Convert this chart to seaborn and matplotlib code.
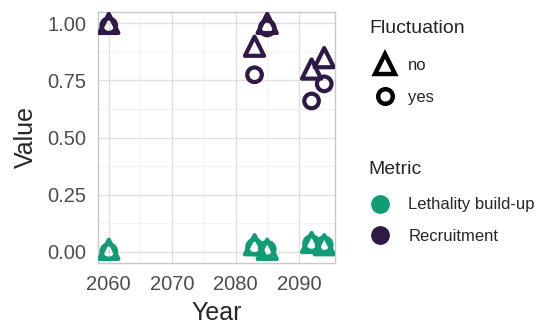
import matplotlib
matplotlib.use("Agg")
import matplotlib.pyplot as plt
from matplotlib.lines import Line2D
import seaborn as sns
import pandas as pd

# Series values
years = [2060, 2083, 2085, 2092, 2094]
recruit_no = [1.00, 0.90, 1.00, 0.80, 0.85]
recruit_yes = [0.99, 0.775, 0.98, 0.66, 0.735]
lethal_no = [0.01, 0.03, 0.01, 0.04, 0.03]
lethal_yes = [0.00, 0.02, 0.01, 0.035, 0.03]

metrics = ["Lethality build-up", "Recruitment"]
fluctuation = ["no", "yes"]
palette = {"Lethality build-up": "#119c76", "Recruitment": "#2e1a45"}
markers = {"no": "^", "yes": "o"}

rows = []
for m, f, vals in [("Recruitment", "no", recruit_no), ("Recruitment", "yes", recruit_yes),
                   ("Lethality build-up", "no", lethal_no), ("Lethality build-up", "yes", lethal_yes)]:
    for y, v in zip(years, vals):
        rows.append({"Year": y, "Value": v, "Metric": m, "Fluctuation": f})
df = pd.DataFrame(rows)

sns.set_style("whitegrid")
plt.rcParams["font.family"] = ["Liberation Sans", "DejaVu Sans"]

W, H = 543, 324
fig = plt.figure(figsize=(W / 100, H / 100), dpi=100)
ax = fig.add_axes([98 / W, 1 - 263 / H, (335 - 98) / W, (263 - 12) / H])

for (m, f), sub in df.groupby(["Metric", "Fluctuation"]):
    sns.scatterplot(data=sub, x="Year", y="Value", ax=ax, marker=markers[f],
                    s=190 if f == "no" else 110, facecolor="none",
                    edgecolor=palette[m], linewidth=3.0, legend=False, zorder=3)

ax.set_xlim(2058.3, 2095.7)
ax.set_ylim(-0.05, 1.05)
ax.set_xticks([2060, 2070, 2080, 2090])
ax.set_yticks([0, 0.25, 0.5, 0.75, 1.0])
ax.set_yticklabels(["0.00", "0.25", "0.50", "0.75", "1.00"])
ax.set_xticks([2065, 2075, 2085], minor=True)
ax.set_yticks([0.125, 0.375, 0.625, 0.875], minor=True)
ax.grid(which="major", color="#e0e0e0", linewidth=1.0)
ax.grid(which="minor", color="#efefef", linewidth=0.6)
for s in ax.spines.values():
    s.set_color("#c8c8c8")
    s.set_linewidth(1.0)
ax.tick_params(axis="both", which="major", labelsize=14.5, colors="#c8c8c8",
               labelcolor="#4d4d4d", length=4, width=1, pad=4.5)
ax.tick_params(axis="both", which="minor", length=0)
ax.set_xlabel("Year", fontsize=18, labelpad=5)
ax.set_ylabel("Value", fontsize=18, labelpad=7)

# Legend titles
fig.text(369 / W, 1 - 28.5 / H, "Fluctuation", fontsize=14, va="center", ha="left")
fig.text(368 / W, 1 - 170 / H, "Metric", fontsize=14, va="center", ha="left")

fs = 12
px = fs * 100 / 72
fl_handles = [Line2D([], [], linestyle="none", marker=markers[f],
                     markersize=14 if f == "no" else 10.5,
                     markerfacecolor="none", markeredgecolor="black", markeredgewidth=3.2)
              for f in fluctuation]
fig.legend(fl_handles, fluctuation, loc="center left",
           bbox_to_anchor=((377 - 0.6 * px) / W, 1 - 81.5 / H), frameon=False,
           fontsize=fs, borderpad=0, handlelength=1.2,
           handletextpad=(408 - 385 - 0.6 * px) / px, labelspacing=1.05)
m_handles = [Line2D([], [], linestyle="none", marker="o", markersize=12.5,
                    markerfacecolor=palette[m], markeredgecolor=palette[m])
             for m in metrics]
fig.legend(m_handles, metrics, loc="center left",
           bbox_to_anchor=((372 - 0.6 * px) / W, 1 - 220.5 / H), frameon=False,
           fontsize=fs, borderpad=0, handlelength=1.2,
           handletextpad=(408 - 380 - 0.6 * px) / px, labelspacing=0.97)

fig.savefig("out.png", dpi=100)
